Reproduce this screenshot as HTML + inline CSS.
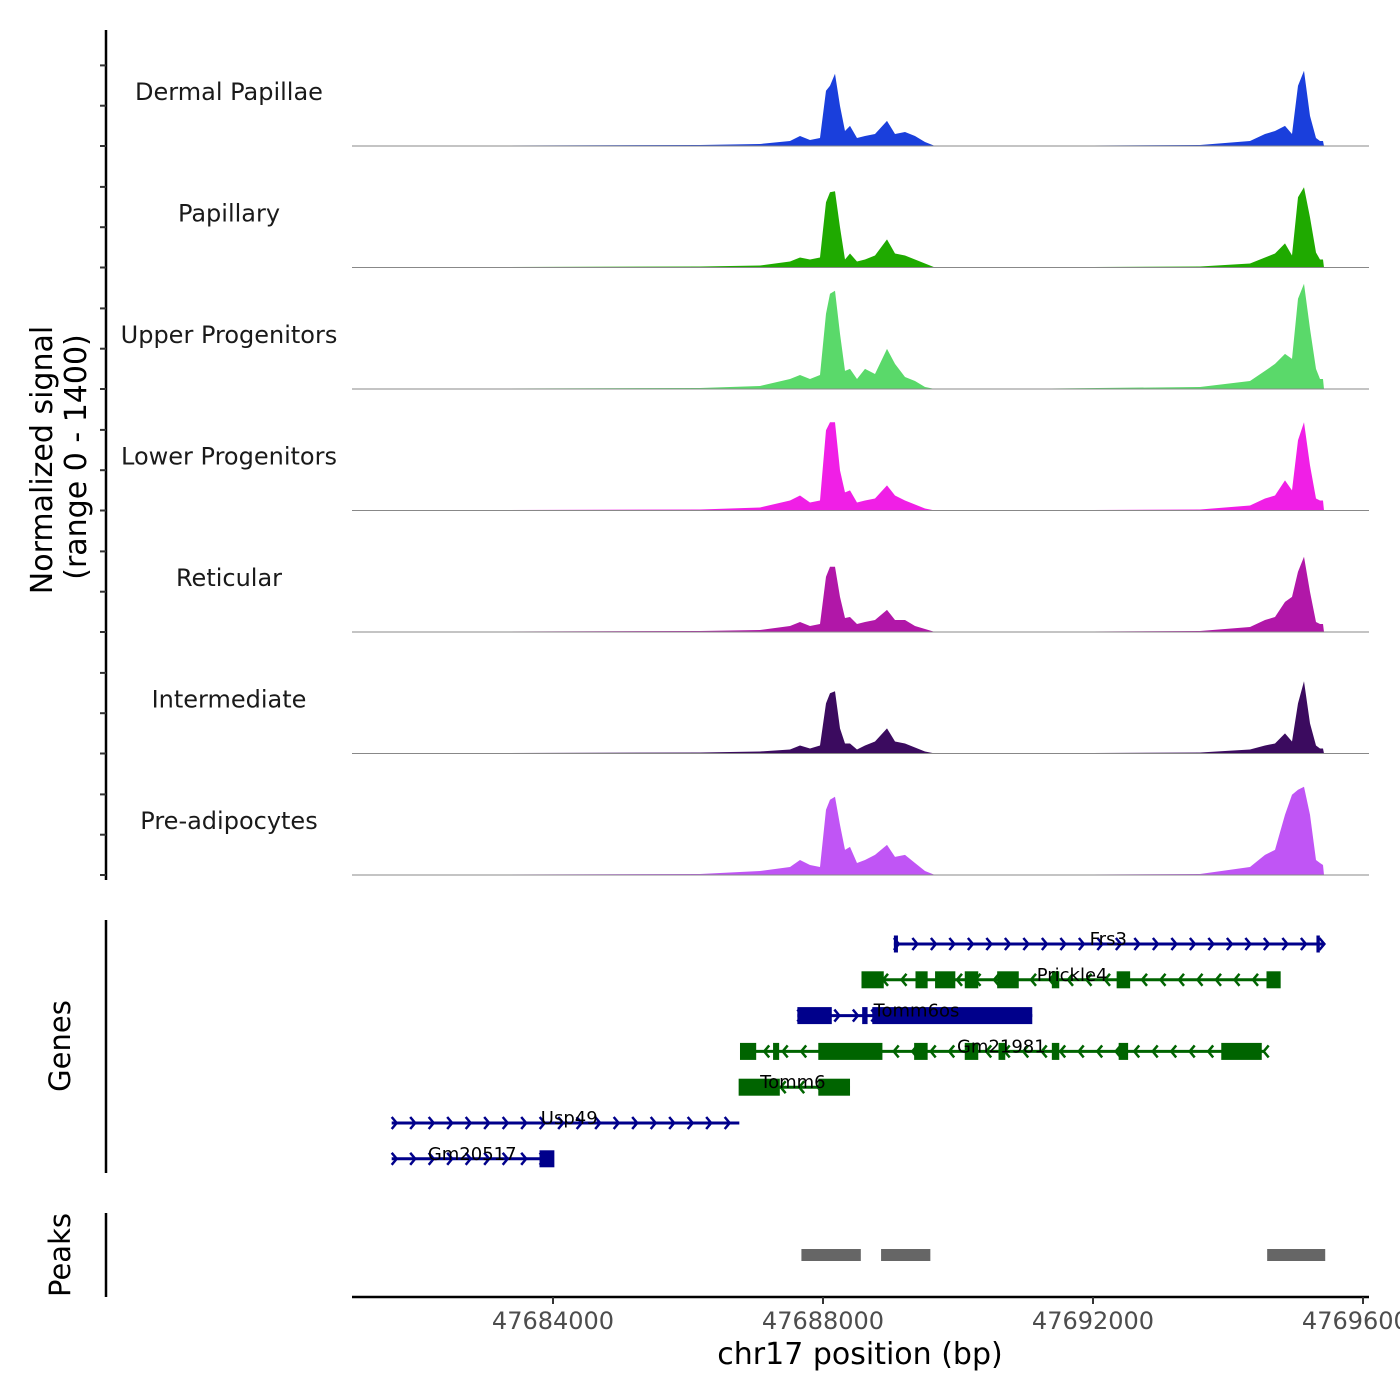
<!DOCTYPE html>
<html><head><meta charset="utf-8"><style>
html,body{margin:0;padding:0;background:#fff}
svg{display:block;font-family:"DejaVu Sans","Liberation Sans",sans-serif}
</style></head><body>
<svg id="chart" width="1400" height="1400" viewBox="0 0 1400 1400" xmlns="http://www.w3.org/2000/svg">
<g id="tracks"></g>
<g id="genes"></g>
<g id="peaks"></g>
<g id="axes"></g>
<text transform="translate(52,460) rotate(-90)" text-anchor="middle" font-size="30">Normalized signal</text>
<text transform="translate(86,457) rotate(-90)" text-anchor="middle" font-size="30">(range 0 - 1400)</text>
<text transform="translate(70,1046) rotate(-90)" text-anchor="middle" font-size="29">Genes</text>
<text transform="translate(70,1255) rotate(-90)" text-anchor="middle" font-size="29">Peaks</text>
<text x="860" y="1364" text-anchor="middle" font-size="30">chr17 position (bp)</text>
</svg>
<script>
const NS="http://www.w3.org/2000/svg";
const positions=[47681022,47686178,47687066,47687511,47687659,47687807,47687955,47688044,47688104,47688178,47688252,47688326,47688400,47688504,47688622,47688770,47688948,47689066,47689215,47689363,47689511,47689659,47690622,47693585,47694326,47694548,47694696,47694844,47694948,47695037,47695126,47695215,47695304,47695363,47695407,47695422];
const trackNames=["Dermal Papillae","Papillary","Upper Progenitors","Lower Progenitors","Reticular","Intermediate","Pre-adipocytes"];
const trackColors=["#1a3fdc","#1faa00","#5ad96a","#f01fe6","#b117a8","#3b0b5f","#c055f5"];
const sigDP=[0,12,24,60,120,72,96,660,720,864,480,180,240,96,120,144,300,144,168,120,48,0,0,12,60,144,180,240,144,720,900,360,96,60,60,0];
const sigPap=[0,12,24,72,120,96,120,780,900,912,480,96,168,72,96,144,336,168,144,96,48,0,0,12,48,120,168,288,144,840,960,600,180,96,96,0];
const sigUpper=[0,12,36,120,168,120,168,900,1140,1176,660,216,240,120,240,180,480,300,144,96,24,0,0,24,96,216,300,420,360,1080,1260,720,240,120,120,0];
const sigLower=[0,12,36,120,180,96,120,960,1056,1056,480,216,240,96,120,144,300,180,120,72,24,0,0,12,60,144,180,360,240,840,1056,540,144,120,120,0];
const sigRet=[0,12,24,72,120,72,96,660,780,780,420,168,180,96,120,144,264,144,144,72,36,0,0,12,60,144,180,360,420,720,900,480,120,96,96,0];
const sigInter=[0,12,24,48,96,60,96,600,720,744,300,120,120,48,96,144,300,144,120,72,24,0,0,12,48,96,120,240,144,600,864,360,96,60,60,0];
const sigPre=[0,12,48,96,180,120,96,780,900,936,600,300,336,144,180,240,360,216,240,144,48,0,0,12,96,240,300,720,960,1020,1056,720,180,144,120,0];
const signals=[sigDP,sigPap,sigUpper,sigLower,sigRet,sigInter,sigPre];
const xTicks=[47684000,47688000,47692000,47696000];
const geneNames=["Frs3","Prickle4","Tomm6os","Gm21981","Tomm6","Usp49","Gm20517"];
const geneStrand=["+","-","+","-","-","+","+"];
const geneStart=[47689050,47688570,47687620,47686810,47686780,47681610,47681610];
const geneEnd=[47695420,47694760,47691100,47694530,47688400,47686760,47683900];
const geneExons=[
 [[47689050,47689110],[47695310,47695360]],
 [[47688570,47688900],[47689370,47689550],[47689660,47689960],[47690100,47690300],[47690580,47690900],[47691390,47691500],[47692350,47692550],[47694570,47694780]],
 [[47687620,47688130],[47688580,47688660],[47688730,47691100]],
 [[47686770,47687010],[47687260,47687350],[47687930,47688880],[47689350,47689550],[47690100,47690300],[47690600,47690700],[47691390,47691500],[47692380,47692520],[47693900,47694500]],
 [[47686750,47687360],[47687930,47688400]],
 [],
 [[47683800,47684020]]
];
const geneLabelPos=[47692226,47691690,47689385,47690642,47687554,47684240,47682803];
const peakStart=[47687680,47688860,47694580];
const peakEnd=[47688560,47689590,47695440];

const X0=47681022, PX0=352, SC=0.0675;
const xs=v=>PX0+(v-X0)*SC;
const trackBase0=146, trackStep=121.5, ymax=1400, trackH=117;
const ys=(i,v)=>trackBase0+i*trackStep-v/ymax*trackH;
function el(tag,attrs,parent){const e=document.createElementNS(NS,tag);for(const k in attrs)e.setAttribute(k,attrs[k]);parent.appendChild(e);return e;}

const tg=document.getElementById('tracks');
signals.forEach((s,i)=>{
  const base=trackBase0+i*trackStep;
  let d="M"+xs(positions[0])+","+base;
  s.forEach((v,j)=>{d+=" L"+xs(positions[j]).toFixed(1)+","+ys(i,v).toFixed(1);});
  d+=" L"+xs(positions[positions.length-1]).toFixed(1)+","+base+" Z";
  const p=el('path',{d:d,fill:trackColors[i],stroke:"none"},tg);
  
  
  const bl=el('line',{x1:352,x2:1369,y1:base,y2:base,stroke:"#888","stroke-width":1},tg);
  
  
  const t=el('text',{x:229,y:base-46,"text-anchor":"middle","font-size":24,fill:"#1a1a1a"},tg);
  t.textContent=trackNames[i];
  
  
});

const gg=document.getElementById('genes');
function chevron(x,y,dir,col){
  const s=dir==="+"?1:-1;
  const c=el('polyline',{points:`${x-4*s},${y-6} ${x+1*s},${y} ${x-4*s},${y+6}`,fill:"none",stroke:col,"stroke-width":2.5},gg);
  
  
}
geneNames.forEach((g,i)=>{
  const y=944+i*35.8;
  const col=geneStrand[i]==="+"?"#00008b":"#006400";
  const x1=xs(geneStart[i]),x2=xs(geneEnd[i]);
  const ln=el('line',{x1:x1,x2:x2,y1:y,y2:y,stroke:col,"stroke-width":3},gg);
  
  
  for(let x=x1+4;x<=x2+1;x+=18.5)chevron(x,y,geneStrand[i],col);
  geneExons[i].forEach(ex=>{
    const r=el('rect',{x:xs(ex[0]),y:y-8.5,width:Math.max(3,xs(ex[1])-xs(ex[0])),height:17,fill:col},gg);
    
    
  });
  const t=el('text',{x:xs(geneLabelPos[i]),y:y+1,"text-anchor":"middle","font-size":18,fill:"#000"},gg);
  t.textContent=g;
  
  
});

const pg=document.getElementById('peaks');
peakStart.forEach((s,i)=>{
  const r=el('rect',{x:xs(s),y:1249,width:xs(peakEnd[i])-xs(s),height:12,fill:"#666"},pg);
  
  
});

const ag=document.getElementById('axes');
[[30,880],[920,1173],[1213,1297]].forEach(([a,b])=>{
  const l=el('line',{x1:106,x2:106,y1:a,y2:b,stroke:"#000","stroke-width":2.5},ag);
  
  
});
for(let i=0;i<7;i++){for(let k=0;k<3;k++){
  const y=trackBase0+i*trackStep-k*40.3;
  const t=el('line',{x1:100,x2:106,y1:y,y2:y,stroke:"#333","stroke-width":2},ag);
  
  
}}
const xl=el('line',{x1:352,x2:1369,y1:1297,y2:1297,stroke:"#000","stroke-width":2.5},ag);


xTicks.forEach(v=>{
  const x=xs(v);
  const t=el('line',{x1:x,x2:x,y1:1297,y2:1304,stroke:"#333","stroke-width":2},ag);
  
  
  const lb=el('text',{x:x,y:1329,"text-anchor":"middle","font-size":24,fill:"#4d4d4d"},ag);
  lb.textContent=String(v);
  
  
});
</script>
</body></html>
